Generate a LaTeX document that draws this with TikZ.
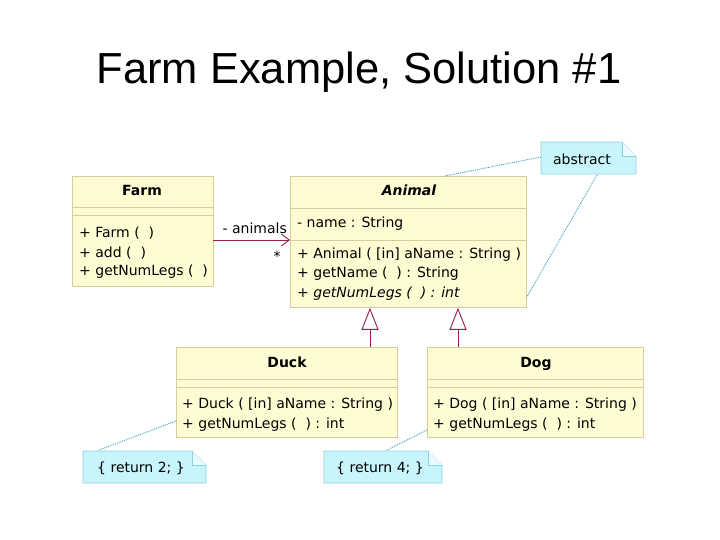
\documentclass[tikz,border=0pt]{standalone}
\usepackage{fontspec}
\setmainfont{Liberation Sans}
\newfontfamily\umlfont{DejaVu Sans}
\usepackage{tikz}
\usetikzlibrary{arrows.meta}
\usetikzlibrary{calc, positioning}

\definecolor{boxfill}{RGB}{255,252,212}
\definecolor{boxline}{RGB}{215,205,155}
\definecolor{notefill}{RGB}{200,245,252}
\definecolor{noteline}{RGB}{145,208,222}
\definecolor{notelink}{RGB}{55,160,185}
\definecolor{linkred}{RGB}{150,30,75}

\tikzset{
	classbox/.style={draw=boxline, fill=boxfill, line width=0.8pt, inner sep=0pt, anchor=north west},
	sepline/.style={draw=boxline, line width=0.8pt},
	heading/.style={font=\umlfont\fontsize{14}{16}\selectfont\bfseries, inner sep=0pt, text height=10pt, text depth=3pt},
	member/.style={font=\umlfont\fontsize{14}{16}\selectfont, anchor=west, inner sep=0pt},
	notetext/.style={font=\umlfont\fontsize{14}{16}\selectfont, inner sep=0pt},
	assoc/.style={draw=linkred, line width=0.9pt, -{Straight Barb[length=8pt, width=12pt]}},
	inherit/.style={draw=linkred, line width=0.9pt, -{Triangle[open, length=22pt, width=17pt]}},
	notelinkline/.style={draw=notelink, densely dotted, line width=0.9pt}
}

\newcommand{\umlnote}[5]{% name, x1, y1, x2, y2
	\fill[notefill] (#2,#3) -- (#4-14,#3) -- (#4,#3+14) -- (#4,#5) -- (#2,#5) -- cycle;
	\draw[noteline, line width=0.7pt] (#2,#3) -- (#4-14,#3) -- (#4,#3+14) -- (#4,#5) -- (#2,#5) -- cycle;
	\draw[noteline, line width=0.5pt, fill=white!60!notefill] (#4-14,#3) -- (#4-14,#3+14) -- (#4,#3+14);
	\coordinate (#1) at ({(#2+#4)/2},{(#3+#5)/2});
}

\begin{document}
\begin{tikzpicture}[x=1pt, y=-1pt]

	\fill[white] (0,0) rectangle (720,540);
	\useasboundingbox (0,0) rectangle (720,540);

	\node[font=\fontsize{43.5}{48}\selectfont, inner sep=0pt] (title) at (359,72) {Farm Example, Solution \#1};

	% classes
	\node[classbox, minimum width=141pt, minimum height=110pt] (farm) at (72,176) {};
	\node[classbox, minimum width=236pt, minimum height=131pt] (animal) at (290,176) {};
	\node[classbox, minimum width=221pt, minimum height=90pt] (duck) at (176,347) {};
	\node[classbox, minimum width=216pt, minimum height=90pt] (dog) at (427,347) {};

	\draw[sepline] ($(farm.north west)+(0,31)$) -- ($(farm.north east)+(0,31)$);
	\draw[sepline] ($(farm.north west)+(0,39)$) -- ($(farm.north east)+(0,39)$);
	\draw[sepline] ($(animal.north west)+(0,32)$) -- ($(animal.north east)+(0,32)$);
	\draw[sepline] ($(animal.north west)+(0,64)$) -- ($(animal.north east)+(0,64)$);
	\draw[sepline] ($(duck.north west)+(0,32)$) -- ($(duck.north east)+(0,32)$);
	\draw[sepline] ($(duck.north west)+(0,40)$) -- ($(duck.north east)+(0,40)$);
	\draw[sepline] ($(dog.north west)+(0,32)$) -- ($(dog.north east)+(0,32)$);
	\draw[sepline] ($(dog.north west)+(0,40)$) -- ($(dog.north east)+(0,40)$);

	\node[heading] (farmname) at (142,192) {Farm};
	\node[member] (farmop1) at (79,233) {+ Farm (\ \ )};
	\node[member] (farmop2) at (79,253) {+ add (\ \ )};
	\node[member] (farmop3) at (79,272) {+ getNumLegs (\ \ )};

	\node[heading, font=\umlfont\fontsize{14}{16}\selectfont\bfseries\itshape] (animalname) at (409,192) {Animal};
	\node[member] (animalattr) at (297,224) {- name : String};
	\node[member] (animalop1) at (297,255) {+ Animal ( [in] aName : String )};
	\node[member] (animalop2) at (297,274) {+ getName (\ \ ) : String};
	\node[member, font=\umlfont\fontsize{14}{16}\selectfont\itshape] (animalop3) at (297,294) {+ getNumLegs (\ \ ) : int};

	\node[heading] (duckname) at (287,364) {Duck};
	\node[member] (duckop1) at (182,405) {+ Duck ( [in] aName : String )};
	\node[member] (duckop2) at (182,425) {+ getNumLegs (\ \ ) : int};

	\node[heading] (dogname) at (536,364) {Dog};
	\node[member] (dogop1) at (433,405) {+ Dog ( [in] aName : String )};
	\node[member] (dogop2) at (433,425) {+ getNumLegs (\ \ ) : int};

	% association and generalization
	\coordinate (assocstart) at (213,240);
	\draw[assoc] (assocstart) -- (assocstart -| animal.west);
	\node[member, anchor=east] (rolename) at (287,228) {- animals};
	\node[member, anchor=center] (multiplicity) at (277,256) {*};

	\coordinate (duckgen) at (370,347);
	\coordinate (doggen) at (458,347);
	\draw[inherit] (duckgen) -- (duckgen |- animal.south);
	\draw[inherit] (doggen) -- (doggen |- animal.south);

	% notes
	\umlnote{abstractnote}{541}{142}{636}{174}
	\node[notetext] (abstracttext) at (582,159) {abstract};
	\umlnote{ducknote}{83}{451}{206}{483}
	\node[notetext] (ducktext) at (141,468) {\{ return 2; \}};
	\umlnote{dognote}{324}{451}{442}{483}
	\node[notetext] (dogtext) at (380,468) {\{ return 4; \}};

	\coordinate (abstractleft) at (541,157);
	\coordinate (abstractfoot) at (597,175);
	\coordinate (ducknotetop) at (99,450);
	\coordinate (dognotetop) at (387,450);
	\draw[notelinkline] (abstractleft) -- (445,176);
	\draw[notelinkline] (abstractfoot) -- (animal.east |- 0,297);
	\draw[notelinkline] (ducknotetop) -- (duck.west |- 0,421);
	\draw[notelinkline] (dognotetop) -- (dog.west |- 0,430);

\end{tikzpicture}
\end{document}
